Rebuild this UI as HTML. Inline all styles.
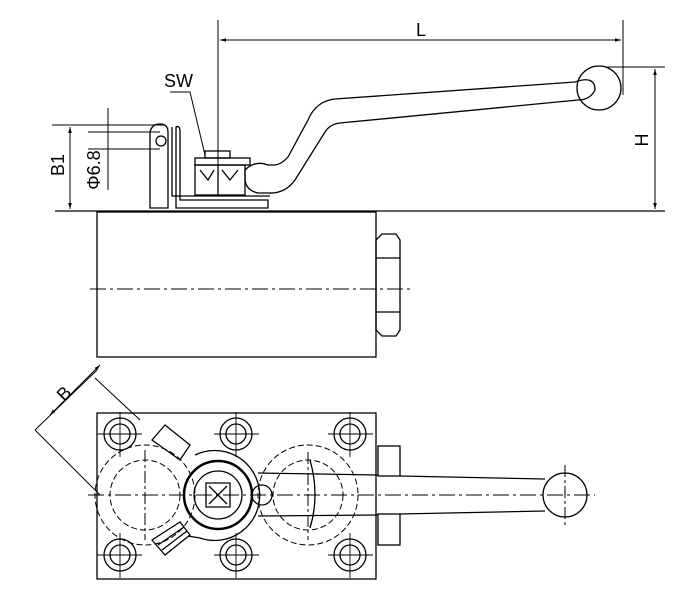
<!DOCTYPE html>
<html><head><style>body{margin:0;background:#fff}svg{display:block}</style></head><body>
<svg width="697" height="606" viewBox="0 0 697 606" xmlns="http://www.w3.org/2000/svg" font-family="Liberation Sans, sans-serif">
<defs>
<marker id="a" viewBox="0 0 10 10" refX="10" refY="5" markerWidth="6" markerHeight="6" orient="auto-start-reverse"><path d="M0,2L10,5L0,8z" fill="#000"/></marker>
</defs>
<g fill="none" stroke="#000" stroke-width="1.3">
<line x1="55" y1="211" x2="665" y2="211"/>
<line x1="218" y1="20" x2="218" y2="170" stroke-width="1"/>
<line x1="623" y1="20" x2="623" y2="95" stroke-width="1"/>
<line x1="220" y1="40" x2="621" y2="40" stroke-width="1" marker-start="url(#a)" marker-end="url(#a)"/>
<line x1="605" y1="67" x2="665" y2="67" stroke-width="1"/>
<line x1="655" y1="69" x2="655" y2="209" stroke-width="1" marker-start="url(#a)" marker-end="url(#a)"/>
<line x1="52" y1="125" x2="165" y2="125" stroke-width="1"/>
<line x1="70" y1="127" x2="70" y2="209" stroke-width="1" marker-start="url(#a)" marker-end="url(#a)"/>
<line x1="88" y1="132" x2="160" y2="132" stroke-width="1"/>
<line x1="88" y1="149" x2="160" y2="149" stroke-width="1"/>
<line x1="108" y1="108" x2="108" y2="190" stroke-width="1"/>
<polyline points="170,92 190,92 205,155" stroke-width="1"/>
<path d="M150,208 L150,135 Q150,124 160,124 Q168,124 168,132 L168,208 Z"/>
<path d="M172,127 L172,196 L270,196"/>
<path d="M176,127 Q180,125 180,132 L180,200 L268,200 L268,208 L176,208 Z"/>
<circle cx="161" cy="141" r="5"/>
<rect x="195" y="158" width="55" height="7"/>
<rect x="205" y="151" width="25" height="7"/>
<rect x="195" y="165" width="50" height="30"/>
<line x1="218" y1="165" x2="218" y2="195"/>
<path d="M200,170 L208,180 L214,170 M222,170 L230,180 L238,170"/>
<path d="M245,170 Q255,160 268,165 L275,165 Q282,164 288,157 L308,120 Q316,101 335,99 L575,82 Q595,75 595,90 Q590,100 578,100 L340,123 Q330,124 325,132 L295,180 Q285,194 268,193 L258,193 Q245,190 245,178 Z"/>
<circle cx="599" cy="88" r="22"/>
<rect x="97" y="212" width="279" height="145"/>
<path d="M376,240 L382,234 L396,234 L400,240 L400,330 L396,336 L382,336 L376,330 Z"/>
<line x1="376" y1="258" x2="400" y2="258"/><line x1="376" y1="312" x2="400" y2="312"/>
<line x1="90" y1="289" x2="410" y2="289" stroke-width="1" stroke-dasharray="16,4,3,4"/>
<rect x="97" y="413" width="279" height="166"/>
<line x1="35" y1="430" x2="97" y2="370" stroke-width="1"/>
<line x1="95" y1="378" x2="140" y2="420" stroke-width="1"/>
<line x1="35" y1="430" x2="100" y2="495" stroke-width="1"/>
<line x1="50" y1="415" x2="100" y2="365" stroke-width="1" marker-start="url(#a)" marker-end="url(#a)"/>
<g>
<circle cx="120" cy="434" r="16"/><circle cx="120" cy="434" r="10"/>
<circle cx="236" cy="434" r="16"/><circle cx="236" cy="434" r="10"/>
<circle cx="350" cy="434" r="16"/><circle cx="350" cy="434" r="10"/>
<circle cx="120" cy="555" r="16"/><circle cx="120" cy="555" r="10"/>
<circle cx="236" cy="555" r="16"/><circle cx="236" cy="555" r="10"/>
<circle cx="350" cy="555" r="16"/><circle cx="350" cy="555" r="10"/>
</g>
<g stroke-width="0.9">
<path d="M97,434h45M120,412v45M214,434h45M236,412v45M328,434h45M350,412v45M97,555h45M120,533v45M214,555h45M236,533v45M328,555h45M350,533v45"/>
</g>
<g stroke-dasharray="6,3" stroke-width="1">
<circle cx="145" cy="495" r="50"/><circle cx="145" cy="495" r="35"/>
<circle cx="308" cy="495" r="50"/><circle cx="308" cy="495" r="35"/>
</g>
<line x1="88" y1="495" x2="595" y2="495" stroke-width="1" stroke-dasharray="16,4,3,4"/>
<line x1="308" y1="452" x2="308" y2="540" stroke-width="1" stroke-dasharray="12,3,3,3"/>
<line x1="145" y1="450" x2="145" y2="540" stroke-width="1" stroke-dasharray="12,3,3,3"/>
<line x1="565" y1="465" x2="565" y2="525" stroke-width="1" stroke-dasharray="12,3,3,3"/>
<path d="M195,455 A45,45 0 1 1 200,538 L188,536"/>
<circle cx="218" cy="495" r="34" stroke-width="2.5"/>
<circle cx="218" cy="495" r="24"/>
<path d="M206,483 h24 v24 h-24 z M209,486 L227,504 M227,486 L209,504"/>
<circle cx="262" cy="495" r="10"/>
<path d="M152,440 L165,425 L190,445 L180,460 Z"/>
<path d="M152,540 L165,555 L190,535 L180,522 Z M158,545 L184,527 M162,550 L187,531"/>
<path d="M258,473 L378,475 M258,516 L378,515 M400,476 L545,479 M400,514 L545,511"/>
<circle cx="565" cy="495" r="22"/>
<path d="M310,460 Q320,495 310,528"/>
<rect x="378" y="446" width="22" height="30"/>
<rect x="378" y="514" width="22" height="31"/>
</g>
<g fill="#000" font-size="18">
<text x="416" y="36">L</text>
<text x="164" y="87">SW</text>
<text transform="translate(648,140) rotate(-90)" text-anchor="middle">H</text>
<text transform="translate(64,165) rotate(-90)" text-anchor="middle">B1</text>
<text transform="translate(100,170) rotate(-90)" text-anchor="middle">Φ6.8</text>
<text transform="translate(64,402) rotate(-45)">B</text>
</g>
</svg>
</body></html>
